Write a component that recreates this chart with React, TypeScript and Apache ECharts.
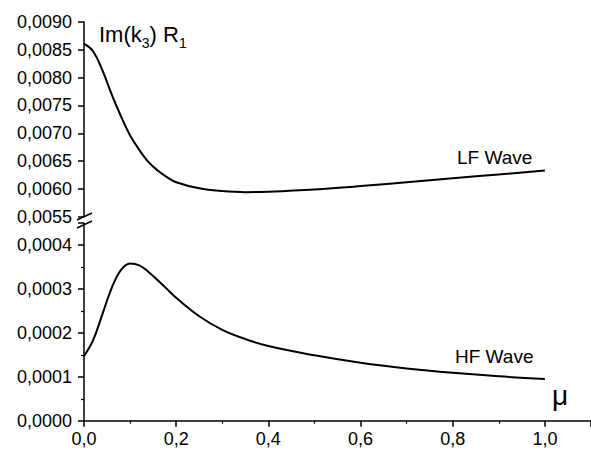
import React, { useEffect, useRef } from "react";
import * as echarts from "echarts";

const mu = [0, 0.02, 0.04, 0.06, 0.08, 0.1, 0.12, 0.14, 0.16, 0.18, 0.2, 0.25, 0.3, 0.35, 0.4, 0.5, 0.6, 0.7, 0.8, 0.9, 1.0];
const lfWave = [0.00861, 0.00847, 0.00813, 0.0077, 0.00731, 0.00696, 0.0067, 0.00648, 0.00633, 0.00621, 0.00612, 0.00601, 0.00596, 0.00594, 0.00595, 0.00599, 0.00605, 0.00612, 0.00619, 0.00626, 0.00633];
const hfWave = [0.000147, 0.000184, 0.000243, 0.000302, 0.000343, 0.000358, 0.000354, 0.000339, 0.00032, 0.0003, 0.00028, 0.000238, 0.000207, 0.000186, 0.00017, 0.000149, 0.000132, 0.000119, 0.000109, 0.000101, 0.000095];

const FONT = "'Liberation Sans', Arial, sans-serif";
const fmt4 = (v: number) => v.toFixed(4).replace(".", ",");
const fmt1 = (v: number) => v.toFixed(1).replace(".", ",");

export default function App() {
  const ref = useRef<HTMLDivElement>(null);
  useEffect(() => {
    if (!ref.current) return;
    const chart = echarts.init(ref.current, undefined, { renderer: "svg" });
    const axisLine = { show: true, lineStyle: { color: "#000", width: 1.5 } };
    const axisTick = { show: true, inside: false, length: 6, lineStyle: { color: "#000", width: 1.5 } };
    const minorTick = { show: true, splitNumber: 2, length: 3, lineStyle: { color: "#000", width: 1.2 } };
    const label = { color: "#000", fontFamily: FONT, fontSize: 18 };
    const lfData = mu.map((x, i) => [x, lfWave[i]]);
    const hfData = mu.map((x, i) => [x, hfWave[i]]);
    const lineSeries = { type: "line", smooth: 0.4, showSymbol: false, lineStyle: { color: "#000", width: 2 } };
    chart.setOption({
      animation: false,
      backgroundColor: "#fff",
      grid: [
        { left: 84, top: 22, width: 509, height: 194.7 },
        { left: 84, top: 223.2, width: 509, height: 197.5 },
      ],
      xAxis: [
        { type: "value", gridIndex: 0, min: 0, max: 1.1, interval: 0.2, show: false },
        {
          type: "value", gridIndex: 1, min: 0, max: 1.1, interval: 0.2,
          axisLine, axisTick, minorTick, splitLine: { show: false },
          axisLabel: { ...label, margin: 9, formatter: fmt1, showMaxLabel: false },
        },
      ],
      yAxis: [
        {
          type: "value", gridIndex: 0, min: 0.0055, max: 0.009, interval: 0.0005,
          axisLine, axisTick, splitLine: { show: false },
          axisLabel: { ...label, margin: 12, formatter: fmt4 },
        },
        {
          type: "value", gridIndex: 1, min: 0, max: 0.00045, interval: 0.0001,
          axisLine, axisTick, minorTick, splitLine: { show: false },
          axisLabel: { ...label, margin: 12, formatter: fmt4, showMaxLabel: false },
        },
      ],
      series: [
        { ...lineSeries, xAxisIndex: 0, yAxisIndex: 0, data: lfData },
        { ...lineSeries, xAxisIndex: 1, yAxisIndex: 1, data: hfData },
      ],
      graphic: [
        { type: "line", shape: { x1: 77, y1: 220, x2: 92, y2: 213 }, style: { stroke: "#000", lineWidth: 1.5 } },
        { type: "line", shape: { x1: 77, y1: 228, x2: 92, y2: 221 }, style: { stroke: "#000", lineWidth: 1.5 } },
        { type: "rect", shape: { x: 82, y: 218, width: 4, height: 5 }, style: { fill: "#fff" } },
        {
          type: "text", x: 99, y: 23,
          style: {
            text: "{a|Im(k}{s|3}{a|) R}{s|1}",
            verticalAlign: "top",
            fill: "#000",
            rich: {
              a: { fontSize: 22, fontFamily: FONT, color: "#000", lineHeight: 22, verticalAlign: "top" },
              s: { fontSize: 14, fontFamily: FONT, color: "#000", lineHeight: 27, verticalAlign: "bottom" },
            },
          },
        },
        { type: "text", x: 457, y: 157, style: { text: "LF Wave", fontSize: 19, fontFamily: FONT, fill: "#000", verticalAlign: "middle" } },
        { type: "text", x: 455, y: 356, style: { text: "HF Wave", fontSize: 19, fontFamily: FONT, fill: "#000", verticalAlign: "middle" } },
        { type: "text", x: 552, y: 395, style: { text: "μ", fontSize: 28, fontFamily: FONT, fill: "#000", verticalAlign: "middle" } },
      ],
    });
    return () => chart.dispose();
  }, []);
  return <div ref={ref} style={{ position: "absolute", left: 0, top: 0, width: 591, height: 452 }} />;
}
